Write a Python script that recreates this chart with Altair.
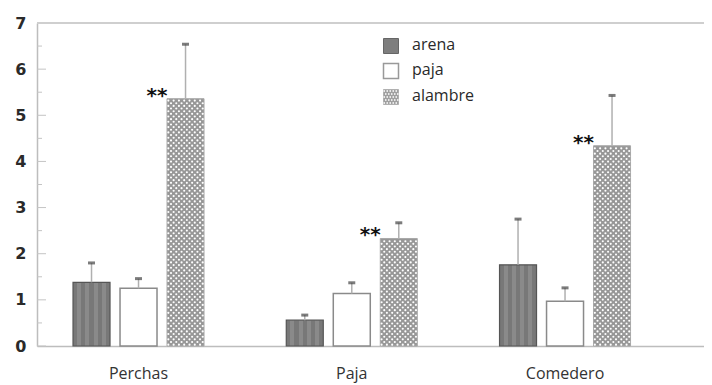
import altair as alt
import pandas as pd

# ---------------- data ----------------
categories = ["Perchas", "Paja", "Comedero"]
series = ["arena", "paja", "alambre"]
arena = [1.38, 0.56, 1.76]
arena_err = [0.42, 0.11, 0.99]
paja = [1.25, 1.14, 0.97]
paja_err = [0.21, 0.23, 0.29]
alambre = [5.36, 2.33, 4.34]
alambre_err = [1.18, 0.34, 1.09]
signif = ["**", "**", "**"]
y_tick_labels = [0, 1, 2, 3, 4, 5, 6, 7]

rows = []
for s, vals, errs in [("arena", arena, arena_err), ("paja", paja, paja_err), ("alambre", alambre, alambre_err)]:
    for i, c in enumerate(categories):
        rows.append({"category": c, "series": s, "value": vals[i], "top": vals[i] + errs[i],
                     "sig": signif[i] if s == "alambre" else ""})
df = pd.DataFrame(rows)

# ---------------- layout ----------------
W, H = 667, 323
PI_X, PO_X, ALIGN_X = 0.3857, 0.2567, 0.329
PI_O = 0.213

x_scale = alt.Scale(domain=categories, paddingInner=PI_X, paddingOuter=PO_X, align=ALIGN_X)
xo_scale = alt.Scale(domain=series, paddingInner=PI_O, paddingOuter=0)
y_scale = alt.Scale(domain=[0, 7], nice=False)

x_axis = alt.Axis(title=None, labelAngle=0, ticks=False, tickSize=0, domainColor="#bdbdbd", domainWidth=1.5,
                  labelFontSize=16, labelColor="#333", labelPadding=19, labelFont="Open Sans", grid=False)
y_axis = alt.Axis(title=None, values=y_tick_labels, ticks=False, tickSize=0, grid=False, domainColor="#bdbdbd",
                  domainWidth=1.5, labelFontSize=16, labelFontWeight=700, labelColor="#2a2a2a",
                  labelPadding=11, labelFont="DejaVu Sans")

X = alt.X("category:N", scale=x_scale, sort=categories, axis=x_axis)
XO = alt.XOffset("series:N", scale=xo_scale, sort=series)

# texture stripes for arena
stops = []
n = 9
for k in range(n):
    col = "#787878" if k % 2 == 0 else "#8a8a8a"
    stops.append(alt.GradientStop(color=col, offset=k / n))
    stops.append(alt.GradientStop(color=col, offset=(k + 1) / n))
arena_fill = alt.LinearGradient(gradient="linear", stops=stops, x1=0, x2=1, y1=0, y2=0)

base = alt.Chart(df).encode(x=X, xOffset=XO)

bar_arena = base.transform_filter("datum.series == 'arena'").mark_bar(
    fill=arena_fill, stroke="#555", strokeWidth=1.2).encode(y=alt.Y("value:Q", scale=y_scale, axis=y_axis))
bar_paja = base.transform_filter("datum.series == 'paja'").mark_bar(
    fill="white", stroke="#8a8a8a", strokeWidth=1.5).encode(y=alt.Y("value:Q", scale=y_scale))
bar_alambre = base.transform_filter("datum.series == 'alambre'").mark_bar(
    fill="#979797", stroke="#a8a8a8", strokeWidth=1).encode(y=alt.Y("value:Q", scale=y_scale))

stem = base.mark_rule(color="#b0b0b0", strokeWidth=1.5).encode(
    y=alt.Y("value:Q", scale=y_scale), y2="top:Q")
cap = base.mark_tick(color="#444", thickness=3, size=7).encode(y=alt.Y("top:Q", scale=y_scale))

stars = base.transform_filter("datum.series == 'alambre'").mark_text(
    align="right", baseline="middle", dx=-18, dy=-3, fontSize=20, fontWeight="bold",
    color="#111", font="DejaVu Sans").encode(y=alt.Y("value:Q", scale=y_scale), text="sig:N")

bars = alt.layer(bar_arena, bar_paja, bar_alambre, stem, cap, stars)

# dot texture on alambre bars (white dots on grey)
DOT_DY = 0.0575
NCOL = 7
bar_start = 2 / (3 - PI_O)
bar_w = (1 - PI_O) / (3 - PI_O)
dots = []
for i, c in enumerate(categories):
    v = alambre[i]
    r = 0
    while (r + 0.8) * DOT_DY < v:
        sh = 0.25 if r % 2 == 0 else 0.75
        for k in range(NCOL):
            dots.append({"category": c, "y": (r + 0.5) * DOT_DY,
                         "dx": bar_start + (k + sh) * bar_w / NCOL})
        r += 1
dots_df = pd.DataFrame(dots)

dot_layer = alt.Chart(dots_df).mark_circle(size=4.5, color="white", opacity=1).encode(
    x=alt.X("category:N", scale=x_scale, sort=categories),
    xOffset=alt.XOffset("dx:Q", scale=alt.Scale(domain=[0, 1], nice=False, zero=False)),
    y=alt.Y("y:Q", scale=y_scale),
)

# axis minor/major inward ticks
tick_df = pd.DataFrame({"v": [0.5 * k for k in range(15)]})
major = alt.Chart(tick_df).transform_filter("datum.v % 1 == 0").mark_rule(color="#c4c4c4", strokeWidth=1).encode(
    y=alt.Y("v:Q", scale=y_scale), x=alt.value(0), x2=alt.value(9))
minor = alt.Chart(tick_df).transform_filter("datum.v % 1 != 0").mark_rule(color="#c4c4c4", strokeWidth=1).encode(
    y=alt.Y("v:Q", scale=y_scale), x=alt.value(0), x2=alt.value(5))
top_rule = alt.Chart(tick_df).mark_rule(color="#cfcfcf", strokeWidth=2).encode(
    y=alt.datum(7), x=alt.value(0), x2=alt.value(W))

# legend
one = pd.DataFrame({"a": [0]})
LX, LTX = 354, 375
LY = [23, 48, 74]
leg = []
leg.append(alt.Chart(one).mark_square(size=225, fill="#7e7e7e", stroke="#666", strokeWidth=1, opacity=1).encode(
    x=alt.value(LX), y=alt.value(LY[0])))
leg.append(alt.Chart(one).mark_square(size=225, fill="white", stroke="#999", strokeWidth=1.5, opacity=1).encode(
    x=alt.value(LX), y=alt.value(LY[1])))
leg.append(alt.Chart(one).mark_square(size=225, fill="#a0a0a0", stroke="#b0b0b0", strokeWidth=1, opacity=1).encode(
    x=alt.value(LX), y=alt.value(LY[2])))
parts = []
m = 5
for r in range(m):
    sh = 0.25 if r % 2 == 0 else 0.75
    for k in range(m):
        cx = -1 + (k + sh) * 2 / m
        cy = -1 + (r + 0.5) * 2 / m
        h = 0.1
        parts.append(f"M{cx-h:.3f},{cy-h:.3f}h{2*h:.3f}v{2*h:.3f}h{-2*h:.3f}z")
pattern_path = " ".join(parts)
leg.append(alt.Chart(one).mark_point(shape=pattern_path, size=225, filled=True, fill="white", opacity=1,
                                     strokeWidth=0).encode(x=alt.value(LX), y=alt.value(LY[2])))
for s, yy in zip(series, LY):
    leg.append(alt.Chart(one).mark_text(text=s, align="left", baseline="middle", fontSize=16,
                                        font="Open Sans", color="#2a2a2a").encode(x=alt.value(LTX), y=alt.value(yy - 1)))

chart = alt.layer(major, minor, top_rule, bars, dot_layer, *leg).resolve_scale(
    xOffset="independent"
).properties(
    width=W, height=H,
    autosize=alt.AutoSizeParams(type="none"),
    padding={"left": 29, "top": 15, "right": 0, "bottom": 37},
).configure_view(stroke=None)

chart.save("out.html", embed_options={"renderer": "svg", "actions": False})
